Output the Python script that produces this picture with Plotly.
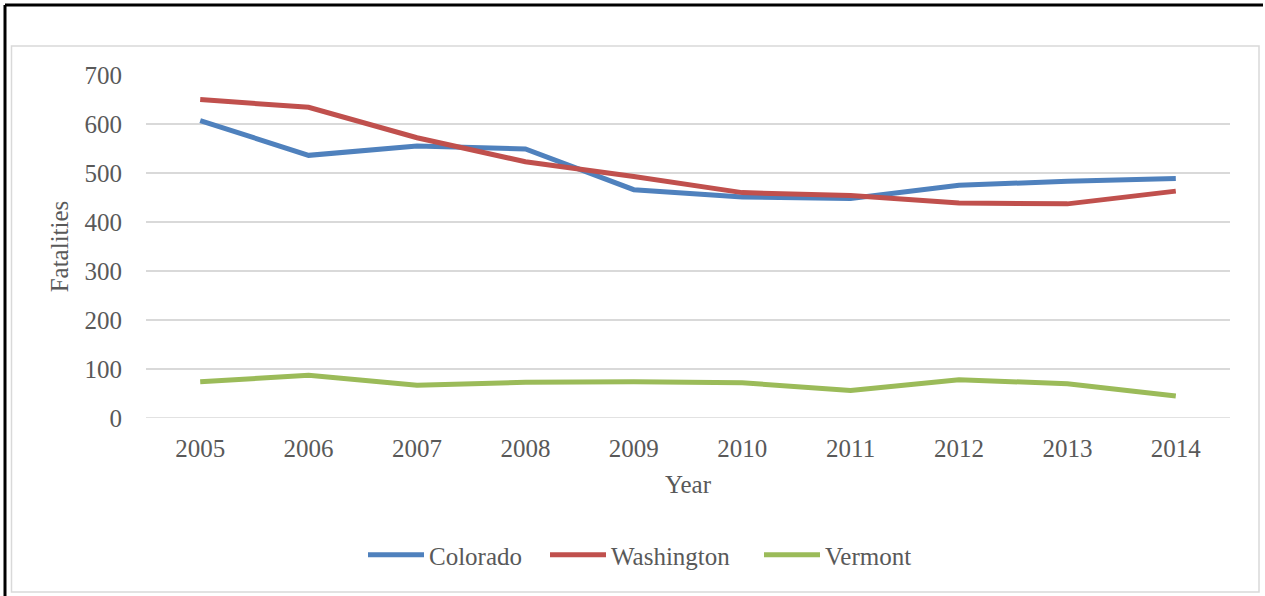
import plotly.graph_objects as go

years = ["2005", "2006", "2007", "2008", "2009", "2010", "2011", "2012", "2013", "2014"]
colorado = [607, 536, 555, 549, 466, 451, 448, 475, 483, 489]
washington = [650, 634, 572, 523, 493, 460, 454, 439, 437, 463]
vermont = [74, 87, 67, 73, 74, 72, 56, 78, 70, 45]

series_names = ["Colorado", "Washington", "Vermont"]
series_colors = ["#4F81BD", "#C0504D", "#9BBB59"]
series_values = [colorado, washington, vermont]
legend_ids = ["legend", "legend2", "legend3"]
legend_x_px = [368, 550, 764]

FONT = "Liberation Serif"
TXT = "#595959"
W, H = 1265, 596

fig = go.Figure()
for name, color, vals, lg in zip(series_names, series_colors, series_values, legend_ids):
    fig.add_trace(go.Scatter(x=years, y=vals, name=name, mode="lines",
                             line=dict(color=color, width=5), legend=lg))

legend_common = dict(orientation="h", xref="container", yref="container",
                     xanchor="left", yanchor="middle", y=1 - 555 / H,
                     font=dict(size=25, color=TXT), itemwidth=56,
                     bgcolor="rgba(0,0,0,0)", borderwidth=0)

layout_legends = {}
for lg, px in zip(legend_ids, legend_x_px):
    layout_legends[lg] = dict(legend_common, x=(px - 5) / W)

fig.update_layout(
    width=W, height=H,
    paper_bgcolor="white", plot_bgcolor="white",
    margin=dict(l=146, r=35, t=75, b=178),
    font=dict(family=FONT, size=25, color=TXT),
    xaxis=dict(type="category", range=[-0.5, 9.5], showgrid=False, showline=False,
               zeroline=False, ticks="", ticklabelstandoff=13,
               title=dict(text="Year", font=dict(size=25, color=TXT), standoff=14),
               tickfont=dict(size=25, color=TXT)),
    yaxis=dict(range=[0, 700], dtick=100, showgrid=True, gridcolor="#d9d9d9", gridwidth=1.5,
               zeroline=False, showline=False, ticks="", ticklabelstandoff=23,
               title=dict(text="Fatalities", font=dict(size=25, color=TXT), standoff=8),
               tickfont=dict(size=25, color=TXT)),
    showlegend=True,
    **layout_legends,
)

fig.add_shape(type="line", xref="paper", yref="y", x0=0, x1=1, y0=0, y1=0,
              line=dict(color="#d9d9d9", width=1.5), layer="below")

fig.add_shape(type="rect", xref="paper", yref="paper",
              x0=(11.5 - 146) / 1084, x1=(1259 - 146) / 1084,
              y0=(418 - 592) / 343, y1=(418 - 46) / 343,
              line=dict(color="#d9d9d9", width=1.5))
fig.add_shape(type="line", xref="paper", yref="paper",
              x0=(5 - 146) / 1084, x1=(5 - 146) / 1084,
              y0=(418 - 600) / 343, y1=(418 - 5) / 343,
              line=dict(color="black", width=3))
fig.add_shape(type="line", xref="paper", yref="paper",
              x0=(5 - 146) / 1084, x1=(1263 - 146) / 1084,
              y0=(418 - 5) / 343, y1=(418 - 5) / 343,
              line=dict(color="black", width=3))

fig.write_html("out.html", config={"displayModeBar": False},
               post_script="document.body.style.margin='0';document.body.style.padding='0';")
